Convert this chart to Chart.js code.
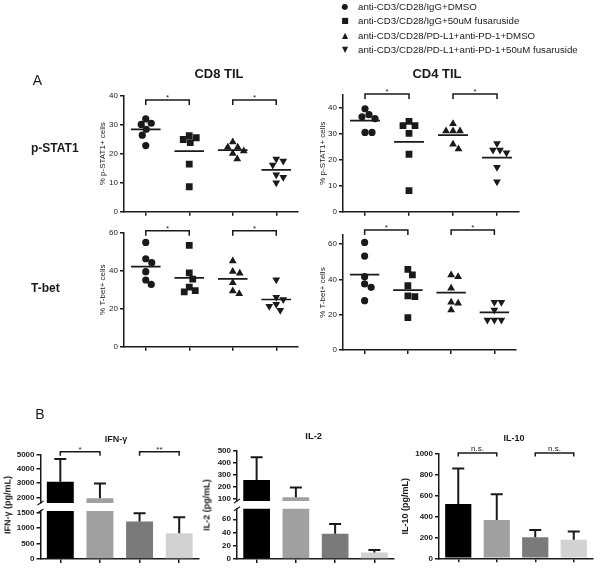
<!DOCTYPE html>
<html>
<head>
<meta charset="utf-8">
<script src="https://cdn.jsdelivr.net/npm/chart.js@4.4.1/dist/chart.umd.min.js"></script>
<style>
  body { margin: 0; background: #fff; }
  #wrap { position: relative; width: 602px; height: 568px; overflow: hidden; font-family: 'Liberation Sans', Arial, sans-serif; }
  #wrap canvas { position: absolute; left: 0; top: 0; }
  .t { position: absolute; white-space: nowrap; color: #1a1a1a; }
</style>
</head>
<body>
<div id="wrap"></div>
<script>
// groups (legend order)
const groups = [
  'anti-CD3/CD28/IgG+DMSO',
  'anti-CD3/CD28/IgG+50uM fusaruside',
  'anti-CD3/CD28/PD-L1+anti-PD-1+DMSO',
  'anti-CD3/CD28/PD-L1+anti-PD-1+50uM fusaruside'
];

// panel A: % positive cells, one array per group
const cd8Stat1 = [[32.0, 30.5, 30.1, 28.4, 26.4, 22.8], [26.2, 25.5, 24.9, 23.8, 16.4, 8.6], [24.0, 22.2, 22.2, 20.9, 20.1, 18.2], [18.2, 17.5, 16.1, 12.7, 11.9, 10.0]];
const cd4Stat1 = [[39.6, 37.3, 36.5, 35.8, 30.5, 30.5], [34.7, 33.1, 33.1, 30.1, 22.1, 8.1], [33.8, 31.0, 31.0, 31.0, 25.9, 24.1], [26.2, 23.7, 23.7, 22.7, 17.1, 11.5]];
const cd8Tbet = [[54.9, 46.3, 44.2, 39.5, 35.1, 32.8], [53.3, 38.9, 35.6, 31.4, 29.5, 28.8], [45.1, 39.6, 38.6, 33.7, 29.3, 27.9], [35.3, 26.0, 24.9, 22.3, 21.3, 19.2]];
const cd4Tbet = [[60.9, 53.2, 41.5, 37.4, 35.5, 27.9], [45.7, 42.5, 36.4, 30.6, 30.2, 18.3], [42.5, 41.5, 34.9, 27.0, 26.4, 22.6], [27.0, 27.0, 22.6, 17.0, 17.0, 17.0]];
const stat1Ticks8 = [0, 10, 20, 30, 40];
const stat1Ticks4 = [0, 10, 20, 30, 40];
const tbetTicks = [0, 20, 40, 60];

// panel B: cytokines, mean and SD (pg/mL)
const ifng = [3110, 1930, 1210, 830];
const ifngSd = [1610, 1060, 270, 520];
const il2 = [256, 112, 38, 10];
const il2Sd = [189, 80, 15, 3.5];
const il10 = [520, 367, 201, 178];
const il10Sd = [341, 247, 70, 80];
const ifngTicksHi = [2000, 3000, 4000, 5000];
const ifngTicksLo = [0, 500, 1000, 1500];
const il2TicksHi = [100, 200, 300, 400, 500];
const il2TicksLo = [0, 20, 40, 60];
const il10Ticks = [0, 200, 400, 600, 800, 1000];

const W = 602, H = 568;
const FF = "'Liberation Sans', Arial, sans-serif";
const INK = '#1a1a1a';
const wrap = document.getElementById('wrap');
const STYLES = ['circle', 'rect', 'triangle', 'triangle'];
const ROT = [0, 0, 0, 180];
const RAD = [3.6, 4.8, 4.5, 4.5];
const SYMS = ['\u25CF', '\u25A0', '\u25B2', '\u25BC'];
const BAR_COLORS = ['#000000', '#a0a0a0', '#7a7a7a', '#d2d2d2'];

function newCtx() {
  const c = document.createElement('canvas');
  c.width = W; c.height = H;
  c.style.width = W + 'px'; c.style.height = H + 'px';
  wrap.appendChild(c);
  return c.getContext('2d');
}

function label(str, x, y, size, bold, align, rotate, family) {
  const d = document.createElement('div');
  d.className = 't';
  d.textContent = str;
  d.style.fontSize = size + 'px';
  d.style.lineHeight = size + 'px';
  d.style.fontWeight = bold ? 'bold' : 'normal';
  if (family) d.style.fontFamily = family;
  d.style.left = x + 'px';
  if (rotate) {
    d.style.top = y + 'px';
    d.style.transform = 'translate(-50%,-50%) rotate(-90deg)';
  } else {
    d.style.top = (y - size / 2) + 'px';
    if (align === 'center') d.style.transform = 'translateX(-50%)';
  }
  wrap.appendChild(d);
}

const mean = a => a.reduce((s, v) => s + v, 0) / a.length;

// spread points of one group sideways so they do not overlap
function swarm(vals, g, pyu, pxu, d) {
  const placed = [];
  return vals.map(v => {
    const py = v * pyu;
    let off = 0;
    for (let k = 0; k < 80; k++) {
      const o = (k % 2 ? 1 : -1) * Math.ceil(k / 2) * 0.5;
      if (placed.every(p => Math.hypot(p.x - o, p.y - py) >= d)) { off = o; break; }
    }
    placed.push({ x: off, y: py });
    return { x: g + off / pxu, y: v };
  });
}

function bracketPlugin(items, size) {
  return {
    id: 'brackets',
    afterDraw(chart) {
      const ctx = chart.ctx, xs = chart.scales.x, ys = chart.scales.y;
      const px = g => xs.type === 'category' ? xs.getPixelForValue(g - 1) : xs.getPixelForValue(g);
      items.forEach(b => {
        const x1 = px(b.from), x2 = px(b.to), y = ys.getPixelForValue(b.y);
        ctx.save();
        ctx.strokeStyle = INK; ctx.lineWidth = 1.5;
        ctx.beginPath();
        ctx.moveTo(x1, y + b.drop); ctx.lineTo(x1, y); ctx.lineTo(x2, y); ctx.lineTo(x2, y + b.drop);
        ctx.stroke();
        ctx.fillStyle = INK;
        ctx.font = size + 'px ' + FF;
        ctx.textAlign = 'center'; ctx.textBaseline = 'alphabetic';
        ctx.fillText(b.text, (x1 + x2) / 2, y - b.gap);
        ctx.restore();
      });
    }
  };
}

function errorPlugin(sd) {
  return {
    id: 'errbars',
    afterDatasetsDraw(chart) {
      const ctx = chart.ctx, ys = chart.scales.y, a = chart.chartArea;
      const vals = chart.data.datasets[0].data;
      ctx.save();
      ctx.beginPath();
      ctx.rect(a.left - 10, a.top - 1, a.right - a.left + 20, a.bottom - a.top + 1);
      ctx.clip();
      ctx.strokeStyle = INK; ctx.lineWidth = 2;
      chart.getDatasetMeta(0).data.forEach((bar, i) => {
        const y0 = ys.getPixelForValue(vals[i]);
        const y1 = ys.getPixelForValue(vals[i] + sd[i]);
        ctx.beginPath();
        ctx.moveTo(bar.x, y0); ctx.lineTo(bar.x, y1);
        ctx.moveTo(bar.x - 6, y1); ctx.lineTo(bar.x + 6, y1);
        ctx.stroke();
      });
      ctx.restore();
    }
  };
}

// small slanted marks where the y axis is broken
function breakPlugin(where) {
  return {
    id: 'axisbreak',
    afterDraw(chart) {
      const ctx = chart.ctx, a = chart.chartArea;
      const y = where === 'bottom' ? a.bottom : a.top;
      ctx.save();
      ctx.strokeStyle = INK; ctx.lineWidth = 1.2;
      ctx.beginPath();
      ctx.moveTo(a.left - 3, y + 2); ctx.lineTo(a.left + 3, y - 2);
      ctx.stroke();
      ctx.restore();
    }
  };
}

function yAxis(o) {
  return {
    type: 'linear', min: o.min, max: o.max,
    afterBuildTicks: s => { s.ticks = o.ticks.map(v => ({ value: v })); },
    afterFit: s => { s.width = o.yW; },
    border: { display: true, color: INK, width: 1.5 },
    grid: { drawOnChartArea: false, drawTicks: true, tickLength: 4, color: INK, lineWidth: 1.5 },
    ticks: {
      autoSkip: false,
      font: { family: FF, size: o.size, weight: o.bold ? 'bold' : 'normal' },
      color: INK, padding: 2, callback: v => String(v)
    },
    title: o.title ? {
      display: true, text: o.title, color: INK, padding: 0,
      font: { family: FF, size: o.tsize, weight: o.bold ? 'bold' : 'normal' }
    } : { display: false }
  };
}

function baseOptions(r, yW, xH) {
  return {
    responsive: false, animation: false, devicePixelRatio: 1,
    layout: { padding: { left: r.l - yW, top: r.t, right: W - r.r, bottom: H - r.b - xH } },
    plugins: { legend: { display: false }, tooltip: { enabled: false } }
  };
}

function dotPlot(o) {
  const r = o.rect, xH = 6;
  const pyu = (r.b - r.t) / o.max, pxu = (r.r - r.l) / 4;
  const datasets = [];
  o.data.forEach((vals, i) => {
    datasets.push({
      data: swarm(vals, i + 1, pyu, pxu, 7),
      pointStyle: STYLES[i], pointRotation: ROT[i], pointRadius: RAD[i],
      pointBackgroundColor: INK, pointBorderColor: INK, pointBorderWidth: 0
    });
  });
  o.data.forEach((vals, i) => {
    const m = mean(vals);
    datasets.push({
      data: [{ x: i + 1 - 0.34, y: m }, { x: i + 1 + 0.34, y: m }],
      showLine: true, pointRadius: 0, borderColor: INK, borderWidth: 1.7
    });
  });
  const options = baseOptions(r, o.yW, xH);
  options.scales = {
    x: {
      type: 'linear', min: 0.5, max: 4.5,
      afterBuildTicks: s => { s.ticks = [1, 2, 3, 4].map(v => ({ value: v })); },
      afterFit: s => { s.height = xH; },
      border: { display: true, color: INK, width: 1.5 },
      grid: { drawOnChartArea: false, drawTicks: true, tickLength: 4, color: INK, lineWidth: 1.5 },
      ticks: { display: false }
    },
    y: yAxis({ min: 0, max: o.max, ticks: o.ticks, yW: o.yW, size: 8, title: o.title, tsize: 8 })
  };
  new Chart(newCtx(), {
    type: 'scatter',
    data: { datasets },
    options,
    plugins: [bracketPlugin(o.brackets, 8)]
  });
}

function barPlot(o) {
  const r = o.rect, xH = o.xAxis ? 6 : 0;
  const options = baseOptions(r, o.yW, xH);
  options.scales = {
    x: {
      type: 'category', offset: true, display: !!o.xAxis,
      afterFit: s => { s.height = xH; },
      border: { display: true, color: INK, width: 1.5 },
      grid: { offset: false, drawOnChartArea: false, drawTicks: true, tickLength: 4, color: INK, lineWidth: 1.5 },
      ticks: { display: false }
    },
    y: yAxis({ min: o.min, max: o.max, ticks: o.ticks, yW: o.yW, size: 8, bold: true, title: o.title, tsize: 9 })
  };
  const plugins = [errorPlugin(o.sd)];
  if (o.brackets) plugins.push(bracketPlugin(o.brackets, 8));
  if (o.breakAt) plugins.push(breakPlugin(o.breakAt));
  new Chart(newCtx(), {
    type: 'bar',
    data: {
      labels: groups,
      datasets: [{
        data: o.data, backgroundColor: BAR_COLORS, borderWidth: 0,
        barPercentage: 0.68, categoryPercentage: 1.0, clip: 0
      }]
    },
    options,
    plugins
  });
}

// ---------- panel A ----------
dotPlot({
  rect: { l: 124, r: 298, t: 95.7, b: 211.7 }, max: 40, ticks: stat1Ticks8, data: cd8Stat1,
  yW: 26, title: '% p-STAT1+ cells',
  brackets: [{ from: 1, to: 2, y: 38.5, drop: 5, text: '*', gap: 0 }, { from: 3, to: 4, y: 38.5, drop: 5, text: '*', gap: 0 }]
});
dotPlot({
  rect: { l: 124, r: 298, t: 232.7, b: 346.7 }, max: 60, ticks: tbetTicks, data: cd8Tbet,
  yW: 26, title: '% T-bet+ cells',
  brackets: [{ from: 1, to: 2, y: 61, drop: 5, text: '*', gap: 0 }, { from: 3, to: 4, y: 61, drop: 5, text: '*', gap: 0 }]
});
dotPlot({
  rect: { l: 343, r: 519, t: 94.7, b: 211.7 }, max: 45, ticks: stat1Ticks4, data: cd4Stat1,
  yW: 25, title: '% p-STAT1+ cells',
  brackets: [{ from: 1, to: 2, y: 45.3, drop: 5, text: '*', gap: 0 }, { from: 3, to: 4, y: 45.3, drop: 5, text: '*', gap: 0 }]
});
dotPlot({
  rect: { l: 343, r: 516, t: 235.2, b: 350 }, max: 65, ticks: tbetTicks, data: cd4Tbet,
  yW: 25, title: '% T-bet+ cells',
  brackets: [{ from: 1, to: 2, y: 67.9, drop: 5, text: '*', gap: 0 }, { from: 3, to: 4, y: 67.9, drop: 5, text: '*', gap: 0 }]
});

// ---------- panel B ----------
barPlot({
  rect: { l: 40.5, r: 199, t: 455, b: 503 }, min: 1600, max: 5000, ticks: ifngTicksHi,
  data: ifng, sd: ifngSd, yW: 30, xAxis: false, breakAt: 'bottom',
  brackets: [{ from: 1, to: 2, y: 5234, drop: 4, text: '*', gap: 0 }, { from: 3, to: 4, y: 5234, drop: 4, text: '**', gap: 0 }]
});
barPlot({
  rect: { l: 40.5, r: 199, t: 511, b: 559 }, min: 0, max: 1550, ticks: ifngTicksLo,
  data: ifng, sd: ifngSd, yW: 30, xAxis: true, breakAt: 'top'
});
barPlot({
  rect: { l: 237, r: 394, t: 450.7, b: 501 }, min: 80, max: 500, ticks: il2TicksHi,
  data: il2, sd: il2Sd, yW: 30, xAxis: false, breakAt: 'bottom'
});
barPlot({
  rect: { l: 237, r: 394, t: 508.7, b: 559 }, min: 0, max: 76, ticks: il2TicksLo,
  data: il2, sd: il2Sd, yW: 30, xAxis: true, breakAt: 'top'
});
barPlot({
  rect: { l: 439, r: 593, t: 454, b: 558.3 }, min: 0, max: 1000, ticks: il10Ticks,
  data: il10, sd: il10Sd, yW: 38.4, xAxis: true, title: 'IL-10 (pg/mL)',
  brackets: [{ from: 1, to: 2, y: 1010, drop: 3.5, text: 'n.s.', gap: 2 }, { from: 3, to: 4, y: 1010, drop: 3.5, text: 'n.s.', gap: 2 }]
});

// ---------- text ----------
groups.forEach((g, i) => {
  const y = 7 + i * 14.3;
  label(SYMS[i], 345, y, 8, false, 'center', false, "'DejaVu Sans', sans-serif");
  label(g, 358, y, 9.7, false);
});
label('A', 37.5, 80, 14, false, 'center');
label('CD8 TIL', 219, 73, 13, true, 'center');
label('CD4 TIL', 437, 73, 13, true, 'center');
label('p-STAT1', 31, 148, 12, true);
label('T-bet', 31, 288, 12, true);
label('B', 40, 413.5, 14, false, 'center');
label('IFN-\u03B3', 116, 439.5, 9, true, 'center');
label('IL-2', 313.7, 435.3, 9.5, true, 'center');
label('IL-10', 514, 438.3, 9, true, 'center');
label('IFN-\u03B3 (pg/mL)', 7.5, 505, 9, true, null, true);
label('IL-2 (pg/mL)', 207, 505, 9, true, null, true);
</script>
</body>
</html>
